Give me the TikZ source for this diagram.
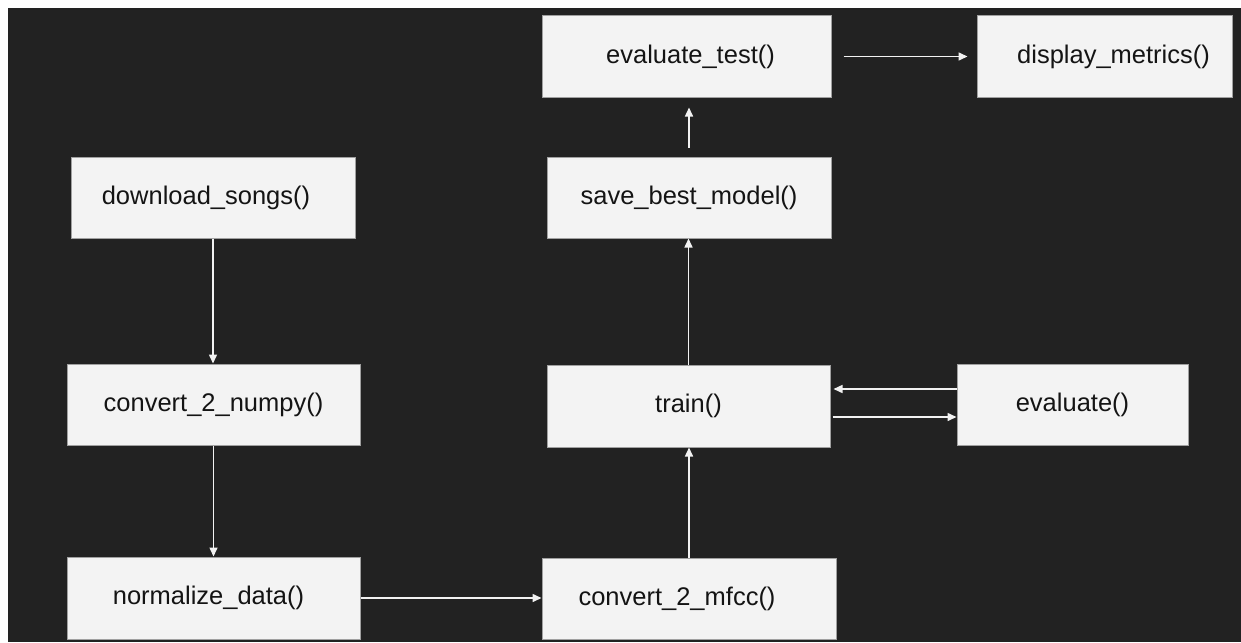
\documentclass[tikz,border=0pt]{standalone}
\usepackage{fontspec}
\setmainfont{Liberation Sans}
\usetikzlibrary{arrows.meta}
\definecolor{bgdark}{HTML}{222222}
\definecolor{boxfill}{HTML}{F3F3F3}
\definecolor{boxline}{HTML}{A0A0A0}
\definecolor{wire}{HTML}{F2F2F2}
% move a label sideways inside its centred box by #1
\newcommand{\nudged}[2]{\hspace*{#1}\hspace*{#1}#2}
\tikzset{
  fn/.style={draw=boxline, line width=1pt, fill=boxfill, text=black!92,
    font=\fontsize{25.5}{30}\selectfont, inner sep=0pt},
  flow/.style={draw=wire, line width=1.5pt,
    -{Triangle[length=9pt,width=8pt]}}
}
\begin{document}
\begin{tikzpicture}[x=1pt,y=-1pt]
  % canvas
  \fill[white] (0,0) rectangle (1241,642);
  \fill[bgdark] (8,8) rectangle (1241,642);
  \useasboundingbox (0,0) rectangle (1241,642);

  % function boxes
  \node[fn, minimum width=284, minimum height=81] (download) at (213,197.5) {\nudged{-7pt}{download\_songs()}};
  \node[fn, minimum width=293, minimum height=81] (numpy) at (213.5,404.5) {convert\_2\_numpy()};
  \node[fn, minimum width=293, minimum height=82] (normalize) at (213.5,598) {\nudged{-5pt}{normalize\_data()}};
  \node[fn, minimum width=294, minimum height=81] (mfcc) at (689,598.5) {\nudged{-12pt}{convert\_2\_mfcc()}};
  \node[fn, minimum width=283, minimum height=82] (train) at (688.5,406) {train()};
  \node[fn, minimum width=284, minimum height=81] (save) at (689,197.5) {save\_best\_model()};
  \node[fn, minimum width=289, minimum height=81] (evaltest) at (686.5,56.5) {\nudged{4pt}{evaluate\_test()}};
  \node[fn, minimum width=255, minimum height=81] (display) at (1104.5,56.5) {\nudged{9pt}{display\_metrics()}};
  \node[fn, minimum width=231, minimum height=81] (evaluate) at (1072.5,404.5) {evaluate()};

  % heights of the two links between train() and evaluate()
  \coordinate (backrow) at (0,389);
  \coordinate (fwdrow) at (0,417);

  % connectors
  \draw[flow] (download.south) -- (download.south |- numpy.north);
  \draw[flow] (numpy.south) -- (numpy.south |- normalize.north);
  \draw[flow] (normalize.east) -- (normalize.east -| mfcc.west);
  \draw[flow] (mfcc.north) -- (mfcc.north |- train.south);
  \draw[flow] (train.north) -- (train.north |- save.south);
  \draw[flow, shorten <=9pt, shorten >=10pt] (save.north) -- (save.north |- evaltest.south);
  \draw[flow, shorten <=12pt, shorten >=9pt] (evaltest.east) -- (evaltest.east -| display.west);
  \draw[flow, shorten >=3pt] (evaluate.west |- backrow) -- (train.east |- backrow);
  \draw[flow, shorten <=2pt] (train.east |- fwdrow) -- (evaluate.west |- fwdrow);
\end{tikzpicture}
\end{document}
